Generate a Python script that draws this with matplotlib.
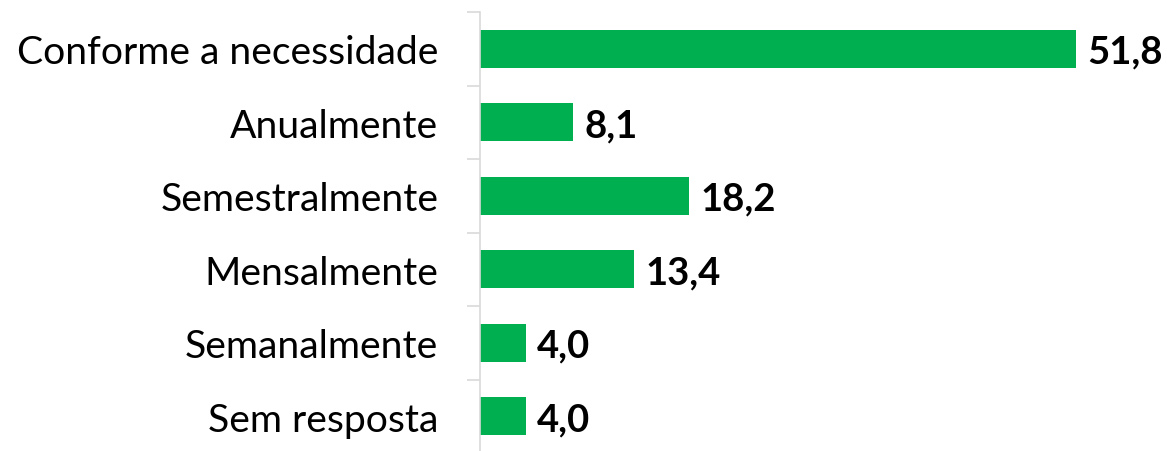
import matplotlib
matplotlib.use("Agg")
import matplotlib.pyplot as plt
import numpy as np

categories = ["Conforme a necessidade", "Anualmente", "Semestralmente",
              "Mensalmente", "Semanalmente", "Sem resposta"]
values = [51.8, 8.1, 18.2, 13.4, 4.0, 4.0]

W, H = 1167, 452
fig = plt.figure(figsize=(W / 100, H / 100), dpi=100)
ax = fig.add_axes([480 / W, -2 / H, 687 / W, 441 / H])

n = len(categories)
y = np.arange(n)
ax.barh(y, values, height=0.52, color="#00B050")
ax.set_ylim(n - 0.5, -0.5)
ax.set_xlim(0, 687 / 11.5)

ax.set_yticks(y)
ax.set_yticklabels(categories, family="Lato", fontsize=28.2, color="#000000")
ax.tick_params(axis="y", which="major", length=0, pad=30)
ax.set_yticks(np.arange(n + 1) - 0.5, minor=True)
ax.tick_params(axis="y", which="minor", length=9.5, width=1.2, color="#D9D9D9")
ax.set_xticks([])

for s in ["top", "right", "bottom"]:
    ax.spines[s].set_visible(False)
ax.spines["left"].set_color("#D9D9D9")
ax.spines["left"].set_linewidth(1.2)

for yi, v in zip(y, values):
    ax.annotate(f"{v:.1f}".replace(".", ","), xy=(v, yi + 0.04), xytext=(8, 0),
                textcoords="offset points", va="center", ha="left",
                family="Lato", fontweight="bold", fontsize=27.5, color="#000000")

fig.savefig("out.png", dpi=100)
